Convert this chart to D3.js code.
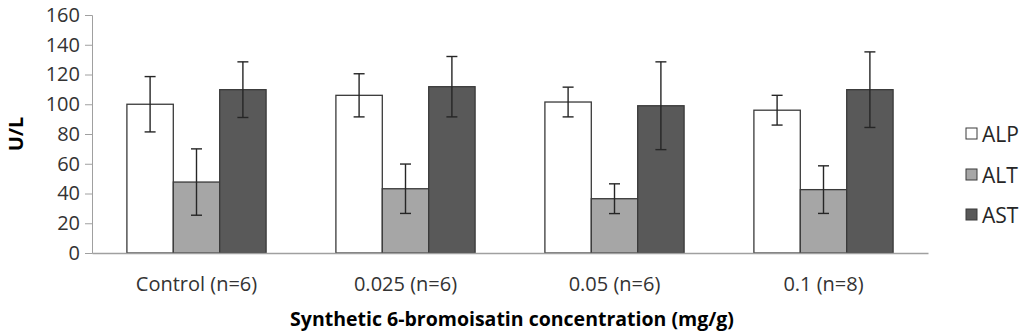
<!DOCTYPE html>
<html><head><meta charset="utf-8">
<script src="https://cdn.jsdelivr.net/npm/d3@7"></script>
<style>body{margin:0;background:#fff}</style>
</head><body>
<svg id="c" width="1024" height="335"></svg>
<script>
const categories = ["Control (n=6)", "0.025 (n=6)", "0.05 (n=6)", "0.1 (n=8)"];
const seriesNames = ["ALP", "ALT", "AST"];
const alpValues = [100, 106, 101.5, 96];
const altValues = [47.7, 43.2, 36.5, 42.6];
const astValues = [109.8, 111.8, 99, 109.8];
const alpErrors = [18.6, 14.5, 10, 10];
const altErrors = [22.3, 16.6, 10, 16];
const astErrors = [18.7, 20.3, 29.5, 25.4];
const yTicks = [0, 20, 40, 60, 80, 100, 120, 140, 160];
const seriesColors = ["#ffffff", "#a6a6a6", "#595959"];

const values = [alpValues, altValues, astValues];
const errors = [alpErrors, altErrors, astErrors];

const svg = d3.select("#c");
const mLeft = 92, mRight = 928, mTop = 15, mBottom = 253;
const font = "'Open Sans', sans-serif";

const x = d3.scaleBand().domain(categories).range([mLeft, mRight]).paddingInner(0.334).paddingOuter(0.167);
const xs = d3.scaleBand().domain(seriesNames).range([0, x.bandwidth()]);
const y = d3.scaleLinear().domain([0, 160]).range([mBottom, mTop]);

// y axis
const ya = svg.append("g").attr("transform", `translate(${mLeft},0)`)
  .call(d3.axisLeft(y).tickValues(yTicks).tickSize(7).tickPadding(5).tickFormat(d3.format("d")));
ya.select(".domain").attr("stroke", "#a0a0a0");
ya.selectAll(".tick line").attr("stroke", "#a0a0a0");
ya.selectAll("text").attr("font-family", font).attr("font-size", 20).attr("fill", "#333");

// bars
seriesNames.forEach((s, si) => {
  svg.append("g").selectAll("rect").data(categories).join("rect")
    .attr("x", c => x(c) + xs(s))
    .attr("y", (c, i) => y(values[si][i]))
    .attr("width", xs.bandwidth())
    .attr("height", (c, i) => y(0) - y(values[si][i]))
    .attr("fill", seriesColors[si])
    .attr("stroke", "#3a3a3a").attr("stroke-width", 1.3);
});

// x axis
const xa = svg.append("g").attr("transform", `translate(0,${mBottom})`)
  .call(d3.axisBottom(x).tickSize(0).tickPadding(24));
xa.select(".domain").attr("stroke", "#a0a0a0").attr("stroke-width", 1.5);
xa.selectAll("text").attr("font-family", font).attr("font-size", 20).attr("fill", "#333");

// error bars
seriesNames.forEach((s, si) => {
  const g = svg.append("g").attr("stroke", "#262626").attr("stroke-width", 1.4);
  categories.forEach((c, i) => {
    const cx = x(c) + xs(s) + xs.bandwidth() / 2;
    const hi = y(values[si][i] + errors[si][i]);
    const lo = y(values[si][i] - errors[si][i]);
    g.append("line").attr("x1", cx).attr("x2", cx).attr("y1", hi).attr("y2", lo);
    g.append("line").attr("x1", cx - 5.5).attr("x2", cx + 5.5).attr("y1", hi).attr("y2", hi);
    g.append("line").attr("x1", cx - 5.5).attr("x2", cx + 5.5).attr("y1", lo).attr("y2", lo);
  });
});

// axis titles
svg.append("text").attr("x", 512).attr("y", 326).attr("text-anchor", "middle")
  .attr("font-family", font).attr("font-weight", "bold").attr("font-size", 19.5).attr("fill", "#000")
  .text("Synthetic 6-bromoisatin concentration (mg/g)");
svg.append("text").attr("transform", "translate(23,134) rotate(-90)").attr("text-anchor", "middle")
  .attr("font-family", font).attr("font-weight", "bold").attr("font-size", 20).attr("fill", "#000")
  .text("U/L");

// legend
const legY = [134, 175, 215];
seriesNames.forEach((s, si) => {
  svg.append("rect").attr("x", 966).attr("y", legY[si] - 6).attr("width", 11).attr("height", 11)
    .attr("fill", seriesColors[si]).attr("stroke", "#3a3a3a").attr("stroke-width", 1);
  svg.append("text").attr("x", 982).attr("y", legY[si] + 7.5)
    .attr("font-family", font).attr("font-size", 21).attr("fill", "#262626").text(s);
});
</script>
</body></html>
